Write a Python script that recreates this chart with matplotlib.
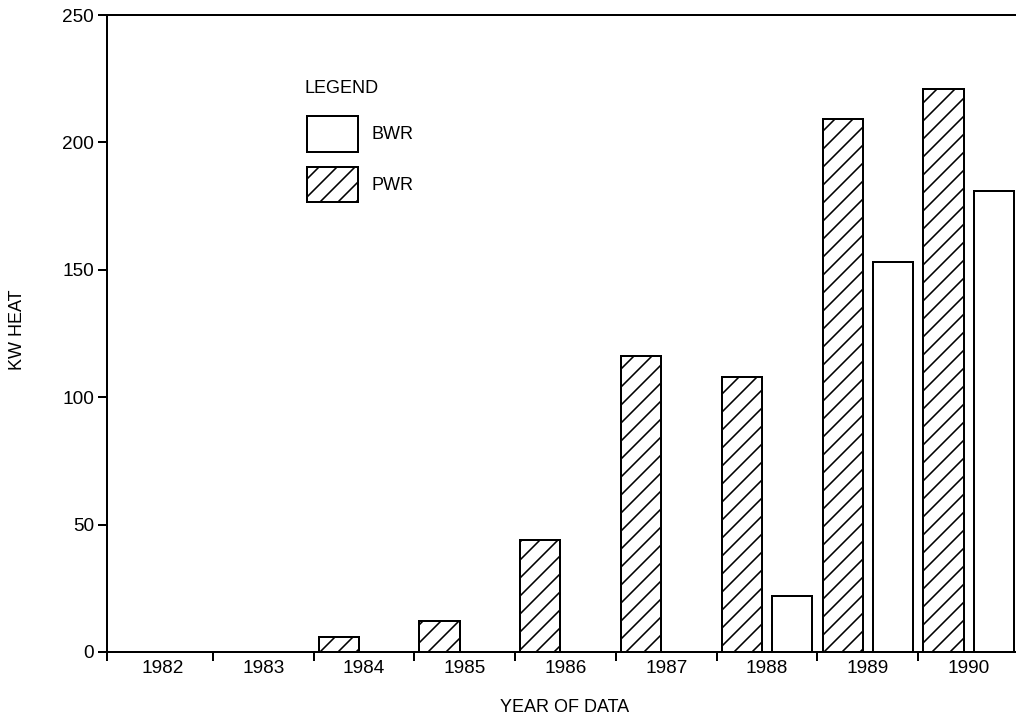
import matplotlib
matplotlib.use("Agg")
import matplotlib.pyplot as plt
from matplotlib.backend_bases import GraphicsContextBase
from matplotlib.patches import Rectangle
from matplotlib.ticker import FixedLocator, NullFormatter

# Reactor heat load by year of data
years = ["1982", "1983", "1984", "1985", "1986", "1987", "1988", "1989", "1990"]
pwr_kw = [0, 0, 6, 12, 44, 116, 108, 209, 221]
bwr_kw = [0, 0, 0, 0, 0, 0, 22, 153, 181]
y_ticks = [0, 50, 100, 150, 200, 250]

# denser single-slash hatching than the default six lines per hatch unit
_base_hatch_path = GraphicsContextBase.get_hatch_path


def _dense_hatch_path(self, density=8.0):
    return _base_hatch_path(self, density)


GraphicsContextBase.get_hatch_path = _dense_hatch_path

plt.rcParams["font.family"] = ["Liberation Sans", "DejaVu Sans"]
plt.rcParams["hatch.linewidth"] = 1.6
plt.rcParams["hatch.color"] = "black"

DPI = 72
fig = plt.figure(figsize=(1016 / DPI, 721 / DPI), dpi=DPI)
ax = fig.add_axes([107 / 1016, 69 / 721, 909 / 1016, 637 / 721])

x = list(range(len(years)))
offset, width = 0.25, 0.40

ax.bar([i - offset for i in x], pwr_kw, width=width, facecolor="white",
       edgecolor="black", linewidth=2, hatch="/", zorder=3)
ax.bar([i + offset for i in x], bwr_kw, width=width, facecolor="white",
       edgecolor="black", linewidth=2, zorder=3)

xmin, xmax = -0.55, 8.47
ax.set_xlim(xmin, xmax)
ax.set_ylim(0, 250)

# category boundaries get tick marks, category centres get the year labels
ax.xaxis.set_major_locator(FixedLocator([xmin] + [i + 0.5 for i in x[:-1]]))
ax.xaxis.set_major_formatter(NullFormatter())
ax.xaxis.set_minor_locator(FixedLocator(x))
ax.set_xticklabels(years, minor=True)
ax.tick_params(axis="x", which="major", direction="out", length=9, width=2)
ax.tick_params(axis="x", which="minor", length=0, pad=8, labelsize=19)

ax.set_yticks(y_ticks)
ax.tick_params(axis="y", direction="out", length=9, width=2, pad=4,
               labelsize=19)

for side in ("left", "bottom", "top"):
    ax.spines[side].set_linewidth(2)
ax.spines["right"].set_visible(False)

fig.text(17 / 1016, 1 - 330 / 721, "KW HEAT", rotation=90, ha="center",
         va="center", fontsize=18)
fig.text(565 / 1016, 1 - 707 / 721, "YEAR OF DATA", ha="center",
         va="center", fontsize=18)

# legend block
ax.text(0.2178, 0.885, "LEGEND", transform=ax.transAxes, ha="left",
        va="center", fontsize=18)
ax.add_patch(Rectangle((0.220, 0.785), 0.0561, 0.0565, transform=ax.transAxes,
                       facecolor="white", edgecolor="black", linewidth=2,
                       clip_on=False))
ax.add_patch(Rectangle((0.220, 0.7064), 0.0561, 0.055, transform=ax.transAxes,
                       facecolor="white", edgecolor="black", linewidth=2,
                       hatch="/", clip_on=False))
ax.text(0.2915, 0.813, "BWR", transform=ax.transAxes, ha="left",
        va="center", fontsize=18)
ax.text(0.2915, 0.733, "PWR", transform=ax.transAxes, ha="left",
        va="center", fontsize=18)

fig.savefig("out.png", dpi=DPI)
